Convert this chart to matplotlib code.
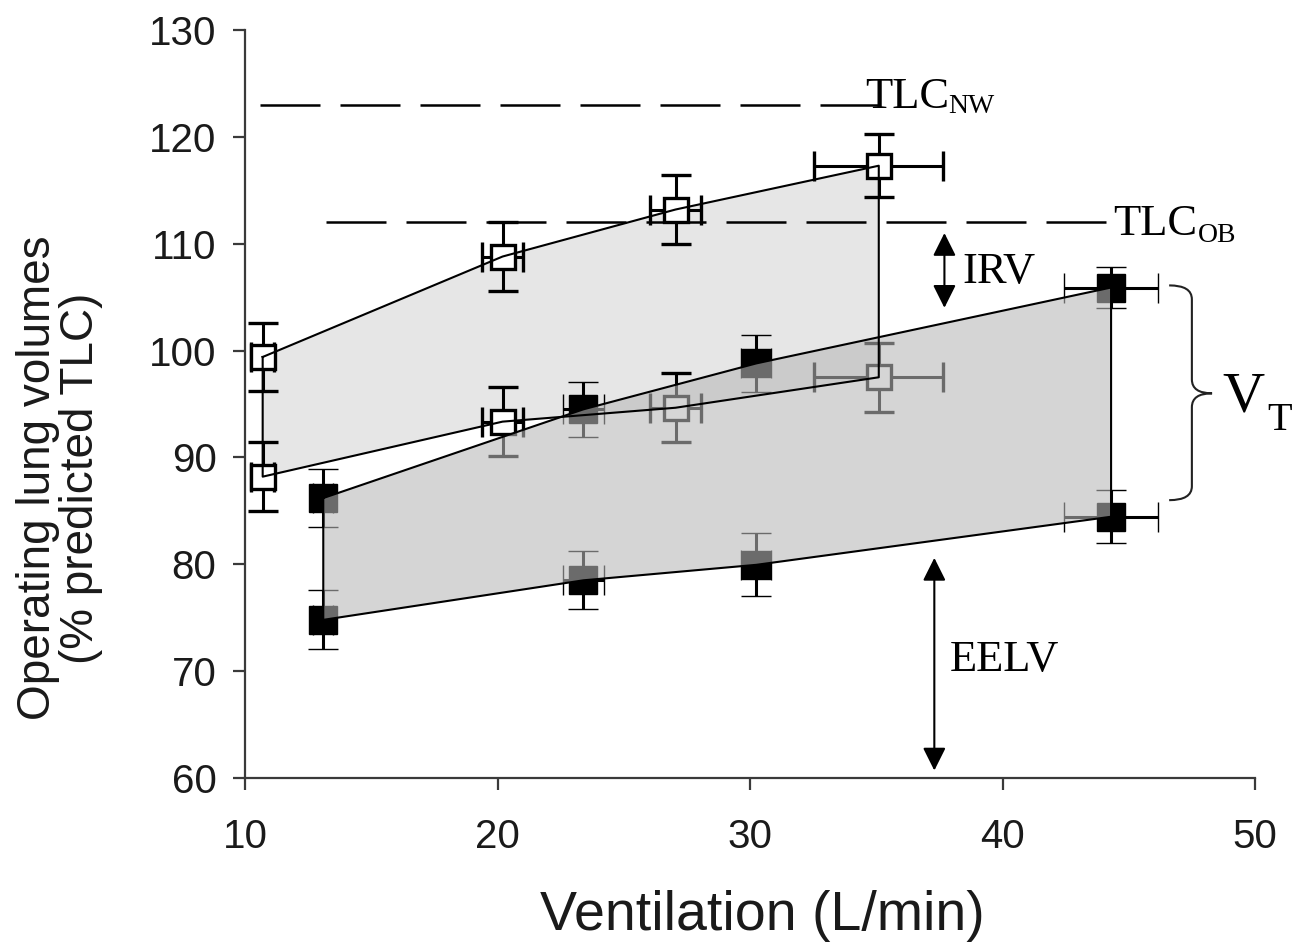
import matplotlib
matplotlib.use("Agg")
import matplotlib.pyplot as plt
from matplotlib.path import Path
from matplotlib.patches import PathPatch, Polygon

plt.rcParams['font.family'] = ['Liberation Sans', 'DejaVu Sans']

# Normal-weight group: ventilation, end-inspiratory and end-expiratory volumes
nw_vent = [10.7, 20.2, 27.05, 35.1]
nw_vent_sd = [0.45, 0.8, 1.0, 2.55]
nw_eilv = [99.4, 108.8, 113.2, 117.3]
nw_eilv_sd = [3.2, 3.2, 3.2, 2.95]
nw_eelv = [88.2, 93.35, 94.65, 97.5]
nw_eelv_sd = [3.2, 3.2, 3.25, 3.25]

# Obese group
ob_vent = [13.1, 23.4, 30.25, 44.3]
ob_vent_sd = [0.4, 0.8, 0.6, 1.85]
ob_eilv = [86.2, 94.5, 98.8, 105.9]
ob_eilv_sd = [2.75, 2.6, 2.7, 1.95]
ob_eelv = [74.8, 78.5, 79.95, 84.45]
ob_eelv_sd = [2.75, 2.7, 2.95, 2.5]

# Total lung capacity references
tlc_nw = 123
tlc_ob = 112

fig = plt.figure(figsize=(12.93, 9.5), dpi=100)
ax = fig.add_axes([245 / 1293, 1 - 778 / 950, (1255 - 245) / 1293, (778 - 30) / 950])

ax.set_xlim(10, 50)
ax.set_ylim(60, 130)
ax.set_xticks([10, 20, 30, 40, 50])
ax.set_yticks([60, 70, 80, 90, 100, 110, 120, 130])
for s in ['top', 'right']:
    ax.spines[s].set_visible(False)
for s in ['left', 'bottom']:
    ax.spines[s].set_color('#3a3a3a')
    ax.spines[s].set_linewidth(1.6)
ax.tick_params(axis='both', direction='out', length=8.5, width=1.6,
               color='#3a3a3a', labelsize=29, labelcolor='#1a1a1a')
ax.tick_params(axis='y', pad=12)
ax.tick_params(axis='x', pad=20)

ax.set_xlabel('Ventilation (L/min)', fontsize=40, color='#1a1a1a')
ax.xaxis.set_label_coords(0.512, -0.150, transform=ax.transAxes)
ax.xaxis.label.set_va('top')
fig.text(38 / 1293, 1 - 478 / 950, 'Operating lung volumes', rotation=90,
         fontsize=33, ha='center', va='center', color='#1a1a1a')
fig.text(81 / 1293, 1 - 478 / 950, '(% predicted TLC)', rotation=90,
         fontsize=33, ha='center', va='center', color='#1a1a1a')

# Shaded tidal-volume envelope, normal weight (beneath markers)
nw_poly = list(zip(nw_vent, nw_eilv)) + list(zip(nw_vent[::-1], nw_eelv[::-1]))
ax.add_patch(Polygon(nw_poly, closed=True, facecolor='#e6e6e6', edgecolor='none', zorder=1))

eb = dict(fmt='s', ecolor='black', elinewidth=2.2, capsize=10.5, capthick=2.2, zorder=3)
ax.errorbar(nw_vent, nw_eilv, xerr=nw_vent_sd, yerr=nw_eilv_sd, ms=17,
            mfc='white', mec='black', mew=2.4, **eb)
ax.errorbar(nw_vent, nw_eelv, xerr=nw_vent_sd, yerr=nw_eelv_sd, ms=17,
            mfc='white', mec='black', mew=2.4, **eb)
ax.errorbar(ob_vent, ob_eilv, xerr=ob_vent_sd, yerr=ob_eilv_sd, ms=20,
            mfc='black', mec='black', mew=1, **eb)
ax.errorbar(ob_vent, ob_eelv, xerr=ob_vent_sd, yerr=ob_eelv_sd, ms=20,
            mfc='black', mec='black', mew=1, **eb)

# Obese envelope drawn translucent over the markers
ob_poly = list(zip(ob_vent, ob_eilv)) + list(zip(ob_vent[::-1], ob_eelv[::-1]))
ax.add_patch(Polygon(ob_poly, closed=True, facecolor=(0.72, 0.72, 0.72, 0.59),
                     edgecolor='none', zorder=4))

# Outlines of both envelopes
for poly in (nw_poly, ob_poly):
    xs = [p[0] for p in poly] + [poly[0][0]]
    ys = [p[1] for p in poly] + [poly[0][1]]
    ax.plot(xs, ys, color='black', lw=1.5, zorder=5)

# TLC reference lines
ax.plot([10.6, 35.1], [tlc_nw, tlc_nw], color='black', lw=1.8, dashes=(24, 8), zorder=2)
ax.plot([13.2, 44.35], [tlc_ob, tlc_ob], color='black', lw=1.8, dashes=(24, 8), zorder=2)

serif = 'Liberation Serif'
ax.text(34.55, 122.7, 'TLC', family=serif, fontsize=32, ha='left', va='baseline', zorder=6)
ax.text(37.84, 122.26, 'NW', family=serif, fontsize=20, ha='left', va='baseline', zorder=6)
ax.text(44.38, 110.8, 'TLC', family=serif, fontsize=32, ha='left', va='baseline', zorder=6, clip_on=False)
ax.text(47.74, 110.2, 'OB', family=serif, fontsize=20, ha='left', va='baseline', zorder=6, clip_on=False)

arrow = dict(arrowstyle='<|-|>,head_length=0.7,head_width=0.35', color='black',
             lw=1.5, mutation_scale=20, shrinkA=0, shrinkB=0)
ax.annotate('', xy=(37.7, 111.0), xytext=(37.7, 104.0), arrowprops=arrow, zorder=6)
ax.text(38.4, 106.3, 'IRV', family=serif, fontsize=32, ha='left', va='baseline', zorder=6)

ax.annotate('', xy=(37.3, 80.6), xytext=(37.3, 60.7), arrowprops=arrow, zorder=6)
ax.text(37.9, 70.0, 'EELV', family=serif, fontsize=32, ha='left', va='baseline', zorder=6)

# Curly brace marking tidal volume
xa, xb, xc = 46.6, 47.5, 48.3
yt, ym, yb = 106.1, 96.0, 86.0
verts = [(xa, yt), (xb, yt), (xb, yt - 1.3), (xb, ym + 1.3), (xb, ym), (xc, ym),
         (xb, ym), (xb, ym - 1.3), (xb, yb + 1.3), (xb, yb), (xa, yb)]
codes = [Path.MOVETO, Path.CURVE3, Path.CURVE3, Path.LINETO, Path.CURVE3, Path.CURVE3,
         Path.CURVE3, Path.CURVE3, Path.LINETO, Path.CURVE3, Path.CURVE3]
ax.add_patch(PathPatch(Path(verts, codes), facecolor='none', edgecolor='#222222',
                       lw=1.5, zorder=6, clip_on=False))
ax.text(48.7, 94.3, 'V', family=serif, fontsize=42, ha='left', va='baseline', clip_on=False)
ax.text(50.47, 92.6, 'T', family=serif, fontsize=29, ha='left', va='baseline', clip_on=False)

fig.savefig('out.png', dpi=100)
